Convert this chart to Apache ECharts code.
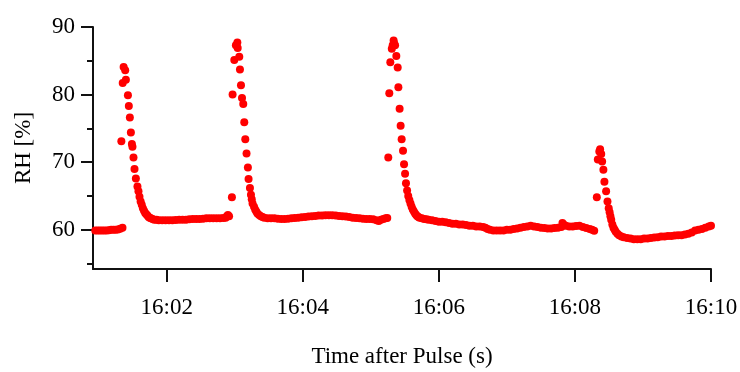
<!DOCTYPE html>
<html>
<head>
<meta charset="utf-8">
<script src="https://cdn.jsdelivr.net/npm/echarts@6/dist/echarts.min.js"></script>
<style>
html,body{margin:0;padding:0;background:#fff;}
#chart{width:740px;height:372px;}
</style>
</head>
<body>
<div id="chart"></div>
<script>
// Data: [seconds after 16:00:00, RH %]
const baseline0 = [[57,59.9],[59,59.9],[61,59.9],[63,59.9],[65,59.9],[67,59.9],[69,59.95],[71,60.0],[73,60.0],[75,60.0],[77,60.05],[79,60.15],[81,60.3]];
const peak1 = [[80,73.1],[81.2,81.7],[82,84.1],[83.4,83.6],[84,82.2],[85.8,79.9],[86.6,78.3],[87.5,76.6],[88.4,74.4],[89.3,72.7],[89.8,72.3],[90.7,70.7],[91.6,69.0],[92.8,67.6],[94.2,66.4],[95.1,65.7],[96,64.9],[97,64.2],[98,63.7],[99,63.2],[100,62.8],[101,62.5],[102,62.3],[103,62.1],[104,61.9],[105,61.8],[106,61.7],[107.5,61.6],[109,61.5],[111,61.5]];
const baseline1 = [[113,61.4],[116,61.4],[119,61.4],[122,61.4],[125,61.4],[128,61.45],[131,61.5],[134,61.5],[137,61.5],[140,61.55],[143,61.6],[146,61.6],[149,61.6],[152,61.65],[155,61.7],[158,61.7],[161,61.7],[164,61.7],[167,61.7],[170,61.75],[172,61.8],[173,62.0],[174,62.2],[175,62.0]];
const peak2 = [[177.5,64.8],[178.1,80.0],[179.6,85.1],[181,87.3],[182.3,87.7],[182.6,86.9],[184,85.6],[184.6,83.7],[185.5,81.4],[186.4,79.5],[187.5,78.6],[188.4,75.9],[189.3,73.4],[190.4,71.3],[191.6,69.2],[192.2,67.5],[193.4,66.2],[194.3,65.2],[195,64.5],[195.7,63.9],[197,63.4],[198,63.0],[199,62.7],[200,62.4],[201.5,62.2],[203,62.0],[204.5,61.9],[206,61.8],[209,61.7],[212,61.7]];
const baseline2 = [[215,61.7],[218,61.65],[221,61.6],[224,61.6],[227,61.65],[230,61.7],[233,61.75],[236,61.8],[239,61.85],[242,61.9],[245,61.95],[248,62.0],[251,62.05],[254,62.1],[257,62.1],[260,62.15],[263,62.15],[266,62.15],[269,62.1],[272,62.05],[275,62.0],[278,61.95],[281,61.9],[284,61.8],[287,61.75],[290,61.7],[293,61.65],[296,61.6],[299,61.6],[302,61.55],[305,61.4],[307,61.3],[309,61.5],[311,61.6],[313,61.7],[314.5,61.75]];
const peak3 = [[315.4,70.7],[316.3,80.2],[317.2,84.8],[318.5,86.8],[319.3,87.3],[320.1,88.0],[320.5,87.6],[321.4,87.3],[322.5,85.7],[323.7,84.0],[324.3,81.1],[325.4,77.9],[326.3,75.4],[327.2,73.4],[328.4,71.7],[329.3,69.7],[330.2,68.3],[331,66.9],[332,65.8],[333,65.0],[334,64.4],[335,63.9],[336,63.4],[337,63.0],[338,62.7],[339,62.4],[340,62.2],[341,62.0],[342,61.9],[343,61.8],[345,61.7],[347,61.6],[349,61.55]];
const baseline3 = [[351,61.5],[354,61.4],[357,61.3],[360,61.2],[363,61.2],[366,61.1],[369,61.0],[372,60.9],[375,60.9],[378,60.8],[381,60.8],[384,60.7],[387,60.6],[390,60.6],[393,60.5],[396,60.5],[399,60.4],[401,60.3],[403,60.1],[405,60.0],[408,59.9],[411,59.9],[414,59.9],[417,59.9],[420,60.0],[423,60.0],[426,60.1],[429,60.2],[432,60.3],[435,60.4],[438,60.5],[441,60.6],[444,60.5],[447,60.4],[450,60.3],[453,60.25],[456,60.2],[459,60.2],[462,60.25],[465,60.3],[468,60.4],[469,61.0],[470,60.8],[472,60.6],[475,60.5],[478,60.5],[481,60.55],[484,60.6],[487,60.4],[490,60.25],[493,60.1],[495,60.0],[497,59.85]];
const peak4 = [[499.3,64.8],[500.2,70.4],[501.5,71.6],[502.2,71.9],[503.2,71.2],[504,70.1],[505.1,68.9],[506,67.1],[507.5,65.7],[508.7,64.2],[509.8,63.2],[510.6,62.6],[511.3,62.0],[512,61.5],[513,60.8],[514,60.3],[515,60.0],[516,59.7],[517.5,59.4],[519,59.2],[521,59.0],[523,58.9],[526,58.8],[529,58.7],[532,58.6],[535,58.6],[538,58.6],[541,58.7],[544,58.7],[547,58.8],[550,58.85],[553,58.9],[556,59.0],[559,59.0],[562,59.1],[565,59.1],[568,59.15],[571,59.2],[574,59.2],[577,59.3],[580,59.4],[583,59.6],[586,59.9],[589,60.0],[592,60.1],[595,60.3],[598,60.5],[600,60.6]];

const xTickValues = [120, 240, 360, 480, 600];
const xTickLabels = ['16:02', '16:04', '16:06', '16:08', '16:10'];
const yMajorTicks = [60, 70, 80, 90];
const yMinorTicks = [55, 65, 75, 85];
const xTitle = 'Time after Pulse (s)';
const yTitle = 'RH [%]';

const allPoints = [].concat(baseline0, peak1, baseline1, peak2, baseline2, peak3, baseline3, peak4);

const FONT = 'Liberation Serif';
const AXIS_COLOR = '#111';

const chart = echarts.init(document.getElementById('chart'), null, {renderer: 'canvas'});
chart.setOption({
  animation: false,
  backgroundColor: '#fff',
  grid: {left: 93, right: 29, top: 27, bottom: 103, containLabel: false, outerBoundsMode: 'none'},
  xAxis: {
    type: 'value',
    min: 55, max: 600,
    name: xTitle,
    nameLocation: 'middle',
    nameGap: 76,
    nameTextStyle: {fontFamily: FONT, fontSize: 23, color: '#000'},
    axisLine: {show: true, lineStyle: {color: AXIS_COLOR, width: 2}},
    axisTick: {show: true, inside: false, length: 13, customValues: xTickValues, lineStyle: {color: AXIS_COLOR, width: 2}},
    axisLabel: {
      show: true, margin: 27, customValues: xTickValues,
      fontFamily: FONT, fontSize: 23, color: '#000',
      formatter: function (v) { const i = xTickValues.indexOf(v); return i >= 0 ? xTickLabels[i] : ''; }
    },
    splitLine: {show: false}
  },
  yAxis: [{
    type: 'value',
    position: 'left',
    min: 54.2, max: 90,
    name: yTitle,
    nameLocation: 'middle',
    nameGap: 58,
    nameRotate: 90,
    nameTextStyle: {fontFamily: FONT, fontSize: 23, color: '#000'},
    axisLine: {show: true, lineStyle: {color: AXIS_COLOR, width: 2}},
    axisTick: {show: true, inside: false, length: 12, customValues: yMajorTicks, lineStyle: {color: AXIS_COLOR, width: 2}},
    axisLabel: {show: true, margin: 18, customValues: yMajorTicks, fontFamily: FONT, fontSize: 23, color: '#000'},
    splitLine: {show: false}
  }, {
    type: 'value',
    position: 'left',
    min: 54.2, max: 90,
    axisLine: {show: false},
    axisTick: {show: true, inside: false, length: 6, customValues: yMinorTicks, lineStyle: {color: AXIS_COLOR, width: 2}},
    axisLabel: {show: false},
    splitLine: {show: false}
  }],
  series: [{
    type: 'scatter',
    xAxisIndex: 0,
    yAxisIndex: 0,
    data: allPoints,
    symbol: 'circle',
    symbolSize: 8,
    itemStyle: {color: '#ff0000', opacity: 1},
    silent: true
  }]
});
</script>
</body>
</html>
